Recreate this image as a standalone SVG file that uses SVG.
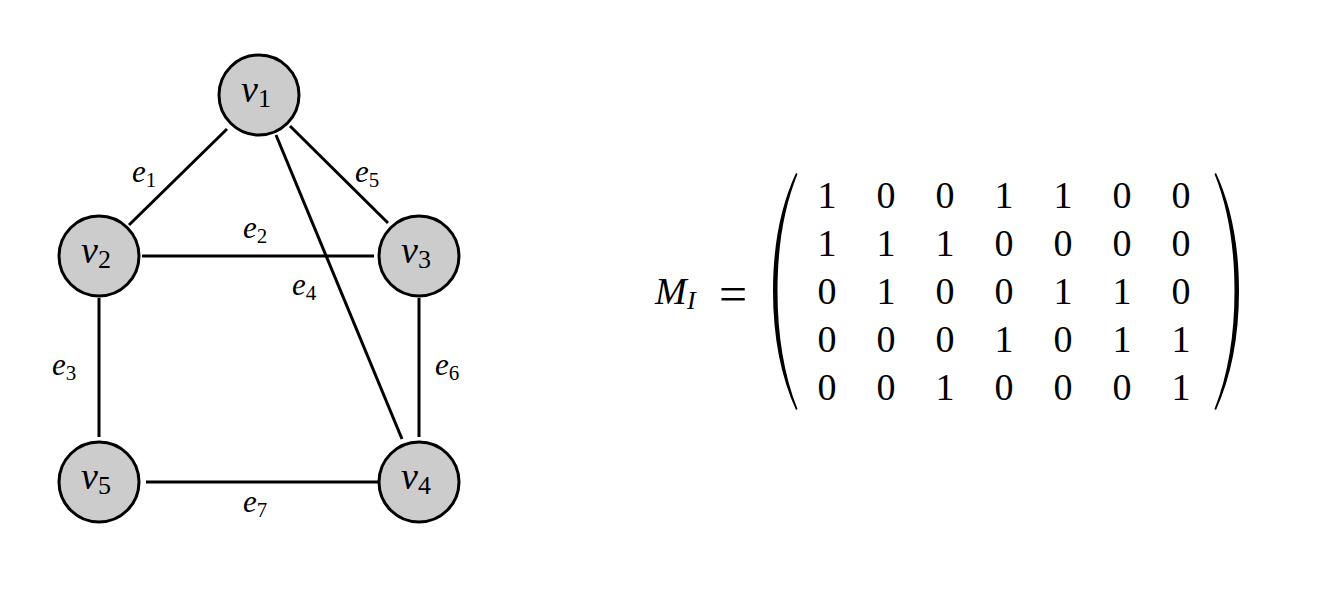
<svg xmlns="http://www.w3.org/2000/svg" xmlns:xlink="http://www.w3.org/1999/xlink" width="1320" height="592" viewBox="0 0 1320 592">
<style>
  .node circle { fill: #cccccc; stroke: #000; stroke-width: 3; }
  .edges line { stroke: #000; stroke-width: 3; }
</style>
<defs>
  <path id="paren" d="M 796 173 C 781 205 773 245 773 291 C 773 337 781 377 796 410 L 797.5 409 C 784 375 777.5 335 777.5 291 C 777.5 247 784 207 797.5 174 Z" fill="#000"/>
</defs>
<rect width="1320" height="592" fill="#fff"/>
<g class="edges" id="connectors">
  <line id="e1" x1="129" y1="225" x2="227" y2="129"/>
  <line id="e5" x1="290" y1="126" x2="388" y2="223"/>
  <line id="e4" x1="276" y1="135" x2="402" y2="439"/>
  <line id="e2" x1="142" y1="256" x2="374" y2="256"/>
  <line id="e3" x1="99" y1="298" x2="99" y2="437"/>
  <line id="e6" x1="419" y1="298" x2="419" y2="437"/>
  <line id="e7" x1="146" y1="482" x2="378" y2="482"/>
</g>
<g id="edge-labels">
  <text x="132" y="182" font-family="'Liberation Serif', serif" font-size="31"><tspan font-style="italic">e</tspan><tspan font-size="21" dy="5">1</tspan></text>
  <text x="243" y="238" font-family="'Liberation Serif', serif" font-size="31"><tspan font-style="italic">e</tspan><tspan font-size="21" dy="5">2</tspan></text>
  <text x="52" y="375" font-family="'Liberation Serif', serif" font-size="31"><tspan font-style="italic">e</tspan><tspan font-size="21" dy="5">3</tspan></text>
  <text x="292" y="295" font-family="'Liberation Serif', serif" font-size="31"><tspan font-style="italic">e</tspan><tspan font-size="21" dy="5">4</tspan></text>
  <text x="355" y="182" font-family="'Liberation Serif', serif" font-size="31"><tspan font-style="italic">e</tspan><tspan font-size="21" dy="5">5</tspan></text>
  <text x="435" y="375" font-family="'Liberation Serif', serif" font-size="31"><tspan font-style="italic">e</tspan><tspan font-size="21" dy="5">6</tspan></text>
  <text x="243" y="512" font-family="'Liberation Serif', serif" font-size="31"><tspan font-style="italic">e</tspan><tspan font-size="21" dy="5">7</tspan></text>
</g>
<g class="node" id="v1">
  <circle cx="259" cy="95" r="40"/>
  <text x="241" y="102" font-family="'Liberation Serif', serif" font-size="38"><tspan font-style="italic">v</tspan><tspan font-size="26" dy="5">1</tspan></text>
</g>
<g class="node" id="v2">
  <circle cx="99" cy="256" r="40"/>
  <text x="81" y="263" font-family="'Liberation Serif', serif" font-size="38"><tspan font-style="italic">v</tspan><tspan font-size="26" dy="5">2</tspan></text>
</g>
<g class="node" id="v3">
  <circle cx="419" cy="256" r="40"/>
  <text x="401" y="263" font-family="'Liberation Serif', serif" font-size="38"><tspan font-style="italic">v</tspan><tspan font-size="26" dy="5">3</tspan></text>
</g>
<g class="node" id="v4">
  <circle cx="419" cy="482" r="40"/>
  <text x="401" y="489" font-family="'Liberation Serif', serif" font-size="38"><tspan font-style="italic">v</tspan><tspan font-size="26" dy="5">4</tspan></text>
</g>
<g class="node" id="v5">
  <circle cx="99" cy="482" r="40"/>
  <text x="81" y="489" font-family="'Liberation Serif', serif" font-size="38"><tspan font-style="italic">v</tspan><tspan font-size="26" dy="5">5</tspan></text>
</g>
<g id="matrix">
  <text x="655" y="304" font-family="'Liberation Serif', serif" font-size="38" font-style="italic"><tspan>M</tspan><tspan x="687" font-size="26" dy="5">I</tspan></text>
  <text x="733" y="311" font-family="'Liberation Serif', serif" font-size="50" text-anchor="middle">=</text>
  <use xlink:href="#paren"/>
  <use xlink:href="#paren" transform="translate(2012,0) scale(-1,1)"/>
  <g font-family="'Liberation Serif', serif" font-size="38" text-anchor="middle">
    <text y="208"><tspan x="827">1</tspan><tspan x="886">0</tspan><tspan x="945">0</tspan><tspan x="1004">1</tspan><tspan x="1063">1</tspan><tspan x="1122">0</tspan><tspan x="1181">0</tspan></text>
    <text y="256"><tspan x="827">1</tspan><tspan x="886">1</tspan><tspan x="945">1</tspan><tspan x="1004">0</tspan><tspan x="1063">0</tspan><tspan x="1122">0</tspan><tspan x="1181">0</tspan></text>
    <text y="304"><tspan x="827">0</tspan><tspan x="886">1</tspan><tspan x="945">0</tspan><tspan x="1004">0</tspan><tspan x="1063">1</tspan><tspan x="1122">1</tspan><tspan x="1181">0</tspan></text>
    <text y="352"><tspan x="827">0</tspan><tspan x="886">0</tspan><tspan x="945">0</tspan><tspan x="1004">1</tspan><tspan x="1063">0</tspan><tspan x="1122">1</tspan><tspan x="1181">1</tspan></text>
    <text y="400"><tspan x="827">0</tspan><tspan x="886">0</tspan><tspan x="945">1</tspan><tspan x="1004">0</tspan><tspan x="1063">0</tspan><tspan x="1122">0</tspan><tspan x="1181">1</tspan></text>
  </g>
</g>
</svg>
